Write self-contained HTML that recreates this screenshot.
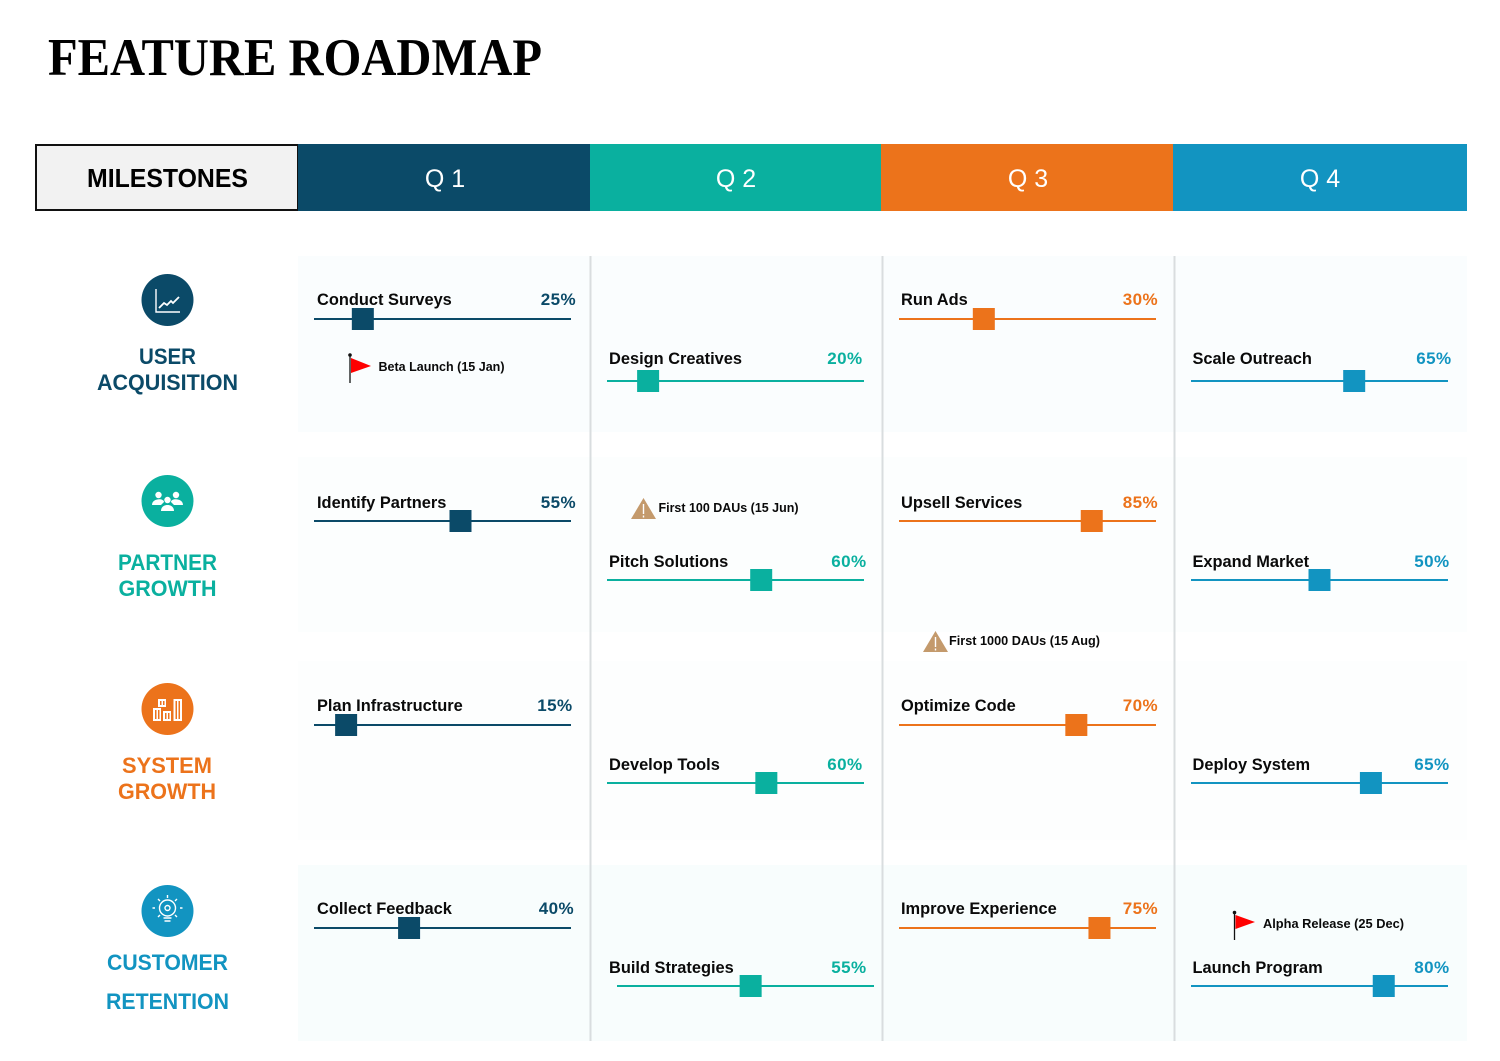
<!DOCTYPE html>
<html lang="en">
<head>
<meta charset="utf-8">
<title>Feature Roadmap</title>
<style>
html,body{margin:0;padding:0;background:#fff;}
svg{display:block;font-family:"Liberation Sans",sans-serif;}
.task{font-size:16.4px;font-weight:700;fill:#0a0a0a;}
.pct{font-size:17px;font-weight:700;letter-spacing:.4px;}
.ms{font-size:12.6px;font-weight:700;fill:#0a0a0a;}
.rl{font-size:22.5px;font-weight:700;text-anchor:middle;}
.q{font-size:25px;fill:#fff;text-anchor:middle;}
</style>
</head>
<body>
<svg id="roadmap" xmlns="http://www.w3.org/2000/svg" width="1500" height="1061" viewBox="0 0 1500 1061">
  <text x="48" y="75" font-family="'Liberation Serif',serif" font-weight="700" font-size="53" textLength="494" lengthAdjust="spacingAndGlyphs" fill="#000">FEATURE ROADMAP</text>

  <g>
    <rect x="298" y="256" width="1169" height="176" fill="#fafdfe"/>
    <rect x="298" y="457" width="1169" height="175" fill="#fcfefe"/>
    <rect x="298" y="661" width="1169" height="179" fill="#fdfefe"/>
    <rect x="298" y="865" width="1169" height="176" fill="#f8fdfd"/>
  </g>

  <g>
    <rect x="36" y="145" width="262" height="65" fill="#f2f2f2" stroke="#111" stroke-width="2"/>
    <text x="167.5" y="187" font-size="26" font-weight="700" text-anchor="middle" textLength="161" lengthAdjust="spacingAndGlyphs" fill="#000">MILESTONES</text>
    <rect x="298" y="144" width="292" height="67" fill="#0b4a68"/>
    <rect x="590" y="144" width="291" height="67" fill="#0ab09f"/>
    <rect x="881" y="144" width="292" height="67" fill="#ec731b"/>
    <rect x="1173" y="144" width="294" height="67" fill="#1294c1"/>
    <text class="q" x="445" y="187">Q 1</text>
    <text class="q" x="736" y="187">Q 2</text>
    <text class="q" x="1028" y="187">Q 3</text>
    <text class="q" x="1320" y="187">Q 4</text>
  </g>

  <g stroke="#d9dddf" stroke-width="2">
    <line x1="590.5" y1="256" x2="590.5" y2="1041"/>
    <line x1="882.5" y1="256" x2="882.5" y2="1041"/>
    <line x1="1174.5" y1="256" x2="1174.5" y2="1041"/>
  </g>

  <g>
    <circle cx="167.5" cy="300" r="26" fill="#0b4a68"/>
    <path d="M156 289V312H180" fill="none" stroke="#fff" stroke-width="1.4"/>
    <path d="M159 308l5-5 3 2 4-4 2 2 6-6" fill="none" stroke="#fff" stroke-width="1.8"/>
    <text class="rl" x="167.5" y="364" fill="#0b4a68" textLength="57" lengthAdjust="spacingAndGlyphs">USER</text>
    <text class="rl" x="167.5" y="390" fill="#0b4a68" textLength="141" lengthAdjust="spacingAndGlyphs">ACQUISITION</text>
  </g>
  <g>
    <circle cx="167.5" cy="501" r="26" fill="#0ab09f"/>
    <g fill="#fff">
      <circle cx="158.5" cy="495" r="3.2"/><circle cx="176" cy="495" r="3.2"/><circle cx="167.5" cy="500" r="3.2"/>
      <path d="M152 505c0-7 12-7 12-3l-3 3zM183 505c0-7-12-7-12-3l3 3zM161 511c0-8 13-8 13 0z"/>
    </g>
    <text class="rl" x="167.5" y="570" fill="#0ab09f" textLength="99" lengthAdjust="spacingAndGlyphs">PARTNER</text>
    <text class="rl" x="167.5" y="596" fill="#0ab09f" textLength="98" lengthAdjust="spacingAndGlyphs">GROWTH</text>
  </g>
  <g>
    <circle cx="167.5" cy="709" r="26" fill="#ec731b"/>
    <g fill="#fff">
      <rect x="153" y="708" width="8" height="13"/><rect x="158" y="699" width="8" height="8"/><rect x="163" y="711" width="8" height="10"/><rect x="173.500" y="699" width="8.500" height="22"/>
    </g>
    <g fill="#ec731b">
      <rect x="155" y="710" width="1.500" height="9"/><rect x="158" y="710" width="1.500" height="9"/><rect x="165" y="713" width="1.500" height="6"/><rect x="168" y="713" width="1.500" height="6"/><rect x="175.500" y="701" width="1.500" height="18"/><rect x="178.500" y="701" width="1.500" height="18"/><rect x="160" y="701" width="1.500" height="4"/><rect x="163" y="701" width="1.500" height="4"/>
    </g>
    <text class="rl" x="167" y="773" fill="#ec731b" textLength="90" lengthAdjust="spacingAndGlyphs">SYSTEM</text>
    <text class="rl" x="167" y="799" fill="#ec731b" textLength="98" lengthAdjust="spacingAndGlyphs">GROWTH</text>
  </g>
  <g>
    <circle cx="167.5" cy="911" r="26" fill="#1294c1"/>
    <g fill="none" stroke="#fff" stroke-width="1.4">
      <circle cx="167.500" cy="908" r="8"/><circle cx="167.500" cy="908" r="2.500"/>
      <path d="M163.500 918h8M164.500 921h6M167.500 895v3M155 908h-2.500M182.500 908h-2.500M158 899l2 2M177 899l-2 2M158 917l2-2M177 917l-2-2"/>
    </g>
    <text class="rl" x="167.5" y="970" fill="#1294c1" textLength="121" lengthAdjust="spacingAndGlyphs">CUSTOMER</text>
    <text class="rl" x="167.5" y="1009" fill="#1294c1" textLength="123" lengthAdjust="spacingAndGlyphs">RETENTION</text>
  </g>

  <g id="tasks"></g>

  <g>
    <line x1="350" y1="355" x2="350" y2="383" stroke="#111" stroke-width="1.3"/>
    <circle cx="350" cy="355" r="1.800" fill="#111"/>
    <path d="M351 358L371 366 351 373Z" fill="#ff0000"/>
    <text class="ms" x="378.500" y="371" textLength="126" lengthAdjust="spacingAndGlyphs">Beta Launch (15 Jan)</text>
  </g>
  <g>
    <path d="M643.500 498L656 519H631Z" fill="#c49a6c"/>
    <path d="M643.500 504V514M643.500 515.500V517.500" stroke="#fff" stroke-width="1.400"/>
    <text class="ms" x="658.500" y="512" textLength="140" lengthAdjust="spacingAndGlyphs">First 100 DAUs (15 Jun)</text>
  </g>
  <g>
    <path d="M935.500 631L948 652H923Z" fill="#c49a6c"/>
    <path d="M935.500 637V647M935.500 648.500V650.500" stroke="#fff" stroke-width="1.400"/>
    <text class="ms" x="949" y="645" textLength="151" lengthAdjust="spacingAndGlyphs">First 1000 DAUs (15 Aug)</text>
  </g>
  <g>
    <line x1="1234.500" y1="913" x2="1234.500" y2="940" stroke="#111" stroke-width="1.300"/>
    <circle cx="1234.500" cy="912.500" r="1.800" fill="#111"/>
    <path d="M1235.500 915L1255 922 1235.500 929Z" fill="#ff0000"/>
    <text class="ms" x="1263" y="928" textLength="141" lengthAdjust="spacingAndGlyphs">Alpha Release (25 Dec)</text>
  </g>
</svg>
<script>
const taskNames = ["Conduct Surveys","Design Creatives","Run Ads","Scale Outreach","Identify Partners","Pitch Solutions","Upsell Services","Expand Market","Plan Infrastructure","Develop Tools","Optimize Code","Deploy System","Collect Feedback","Build Strategies","Improve Experience","Launch Program"];
const printedPercent = [25,20,30,65,55,60,85,50,15,60,70,65,40,55,75,80];
const markerProgress = [19,16,33,63.5,57,60,75,50,12.5,62,69,70,37,52,78,75];
const taskQuarter = [0,1,2,3,0,1,2,3,0,1,2,3,0,1,2,3];
const taskRow = [0,0,0,0,1,1,1,1,2,2,2,2,3,3,3,3];
const taskSlot = [0,1,0,1,0,1,0,1,0,1,0,1,0,1,0,1];
const quarterColors = ["#0b4a68","#0ab09f","#ec731b","#1294c1"];
const trackLength = 257;
const svgNS = "http://www.w3.org/2000/svg";
const host = document.getElementById("tasks");

function trackStart(q, i) {
  return (q === 0 ? 314 : q === 1 ? 607 : q === 2 ? 899 : 1191) + (taskNames[i] === "Build Strategies" ? 10 : 0);
}
function labelStart(q) {
  return q === 0 ? 317 : q === 1 ? 609 : q === 2 ? 901 : 1192.5;
}
function percentRight(q, i) {
  const name = taskNames[i];
  if (q === 0) {
    return name === "Plan Infrastructure" ? 572.5 : name === "Collect Feedback" ? 574 : 576;
  }
  if (q === 1) {
    return (name === "Pitch Solutions" || name === "Build Strategies") ? 866.5 : 862.5;
  }
  if (q === 2) {
    return 1158;
  }
  return name === "Scale Outreach" ? 1451.5 : 1449.5;
}
function trackY(row, slot) {
  const rowTop = row === 0 ? 256 : row === 1 ? 457 : row === 2 ? 661 : 865;
  const off = row === 0 ? (slot ? 125 : 63) : row === 1 ? (slot ? 123 : 64) : row === 2 ? (slot ? 122 : 64) : (slot ? 121 : 63);
  return rowTop + off;
}
function titleBaseline(row, slot) {
  const rowTop = row === 0 ? 256 : row === 1 ? 457 : row === 2 ? 661 : 865;
  const off = row === 0 ? 43 : row === 1 ? 45 : row === 2 ? 44 : 43;
  return rowTop + off + (slot ? 59 : 0) + 6;
}
function xScale(q, i, value) {
  return trackStart(q, i) + (value / 100) * trackLength;
}

taskNames.forEach(function (name, i) {
  const q = taskQuarter[i];
  const r = taskRow[i];
  const s = taskSlot[i];
  const color = quarterColors[q];
  const y = trackY(r, s);
  const x0 = trackStart(q, i);

  const group = document.createElementNS(svgNS, "g");
  
  

  const title = document.createElementNS(svgNS, "text");
  
  
  title.setAttribute("class", "task");
  title.setAttribute("x", labelStart(q));
  title.setAttribute("y", titleBaseline(r, s));
  title.textContent = name;
  group.appendChild(title);

  const pct = document.createElementNS(svgNS, "text");
  
  
  pct.setAttribute("class", "pct");
  pct.setAttribute("x", percentRight(q, i));
  pct.setAttribute("y", titleBaseline(r, s));
  pct.setAttribute("text-anchor", "end");
  pct.setAttribute("fill", color);
  pct.textContent = printedPercent[i] + "%";
  group.appendChild(pct);

  const track = document.createElementNS(svgNS, "line");
  
  
  track.setAttribute("x1", x0);
  track.setAttribute("x2", x0 + trackLength);
  track.setAttribute("y1", y);
  track.setAttribute("y2", y);
  track.setAttribute("stroke", color);
  track.setAttribute("stroke-width", "2");
  group.appendChild(track);

  const marker = document.createElementNS(svgNS, "rect");
  
  
  marker.setAttribute("x", xScale(q, i, markerProgress[i]) - 11);
  marker.setAttribute("y", y - 11);
  marker.setAttribute("width", "22");
  marker.setAttribute("height", "22");
  marker.setAttribute("fill", color);
  group.appendChild(marker);

  host.appendChild(group);
});
</script>
</body>
</html>
